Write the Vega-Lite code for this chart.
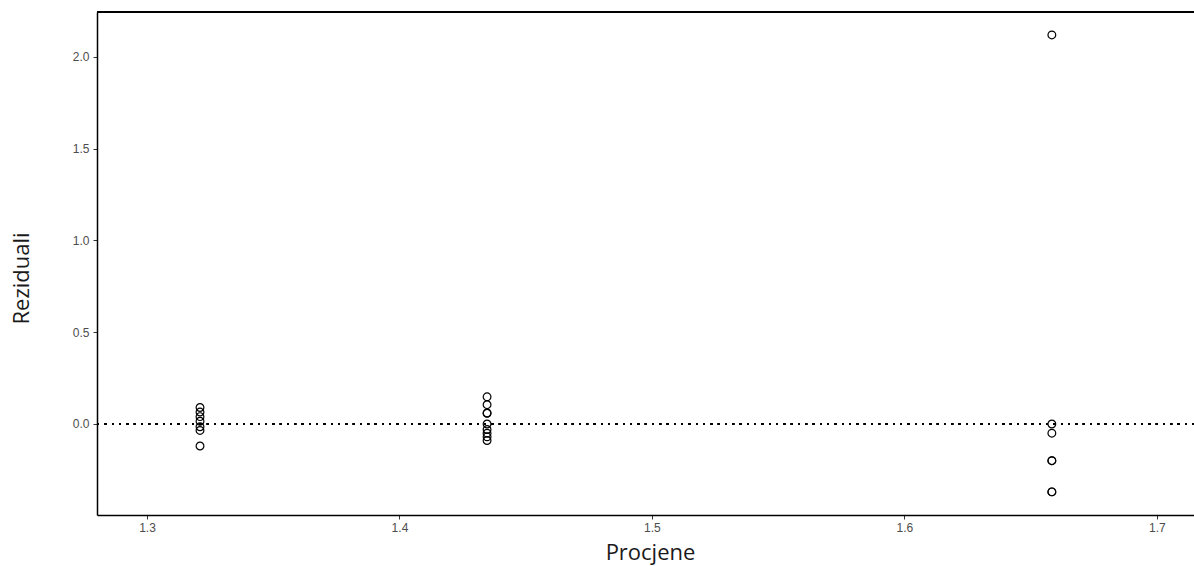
{
  "$schema": "https://vega.github.io/schema/vega-lite/v6.json",
  "autosize": "none",
  "width": 1097,
  "height": 503,
  "padding": {"left": 97, "top": 12, "right": 0, "bottom": 51},
  "background": "white",
  "config": {
    "view": {"stroke": null},
    "axis": {
      "grid": false,
      "domainColor": "#000000",
      "domainWidth": 1.5,
      "tickColor": "#333333",
      "tickSize": 4,
      "tickWidth": 1,
      "labelFont": "Liberation Sans",
      "labelFontSize": 12,
      "labelColor": "#4d4d4d",
      "titleFont": "Open Sans",
      "titleFontSize": 22,
      "titleFontWeight": "normal",
      "titleColor": "#1a1a1a"
    }
  },
  "data": {
    "values": [
      {"fitted": 1.321, "resid": 0.09},
      {"fitted": 1.321, "resid": 0.065},
      {"fitted": 1.321, "resid": 0.04},
      {"fitted": 1.321, "resid": 0.015},
      {"fitted": 1.321, "resid": -0.015},
      {"fitted": 1.321, "resid": -0.035},
      {"fitted": 1.321, "resid": -0.12},
      {"fitted": 1.4347, "resid": 0.148},
      {"fitted": 1.4347, "resid": 0.105},
      {"fitted": 1.4347, "resid": 0.06},
      {"fitted": 1.4347, "resid": 0.058},
      {"fitted": 1.4347, "resid": 0.0},
      {"fitted": 1.4347, "resid": -0.03},
      {"fitted": 1.4347, "resid": -0.05},
      {"fitted": 1.4347, "resid": -0.07},
      {"fitted": 1.4347, "resid": -0.09},
      {"fitted": 1.6584, "resid": 2.12},
      {"fitted": 1.6584, "resid": 0.0},
      {"fitted": 1.6584, "resid": -0.05},
      {"fitted": 1.6584, "resid": -0.2},
      {"fitted": 1.6584, "resid": -0.2},
      {"fitted": 1.6584, "resid": -0.37},
      {"fitted": 1.6584, "resid": -0.37}
    ]
  },
  "encoding": {
    "x": {
      "field": "fitted",
      "type": "quantitative",
      "scale": {"domain": [1.2802, 1.7147], "nice": false, "zero": false},
      "axis": {"title": "Procjene", "values": [1.3, 1.4, 1.5, 1.6, 1.7], "format": ".1f", "labelPadding": 3, "titleX": 553, "titleY": 37, "titleAlign": "center", "titleBaseline": "middle"}
    },
    "y": {
      "field": "resid",
      "type": "quantitative",
      "scale": {"domain": [-0.496, 2.245], "nice": false, "zero": false},
      "axis": {"title": "Reziduali", "values": [0, 0.5, 1, 1.5, 2], "format": ".1f", "labelPadding": 4, "titleX": -76, "titleY": 266, "titleAlign": "center", "titleBaseline": "middle", "titleAngle": -90}
    }
  },
  "layer": [
    {
      "mark": {"type": "rule", "stroke": "#000000", "strokeWidth": 1.6, "strokeDash": [1.6, 5.7]},
      "encoding": {"y": {"datum": 0}, "x": null}
    },
    {
      "mark": {"type": "rule", "stroke": "#000000", "strokeWidth": 1.5},
      "encoding": {"y": {"datum": 2.245}, "x": null}
    },
    {
      "mark": {"type": "point", "shape": "circle", "filled": false, "stroke": "#000000", "strokeWidth": 1.2, "size": 60, "opacity": 1}
    }
  ]
}
